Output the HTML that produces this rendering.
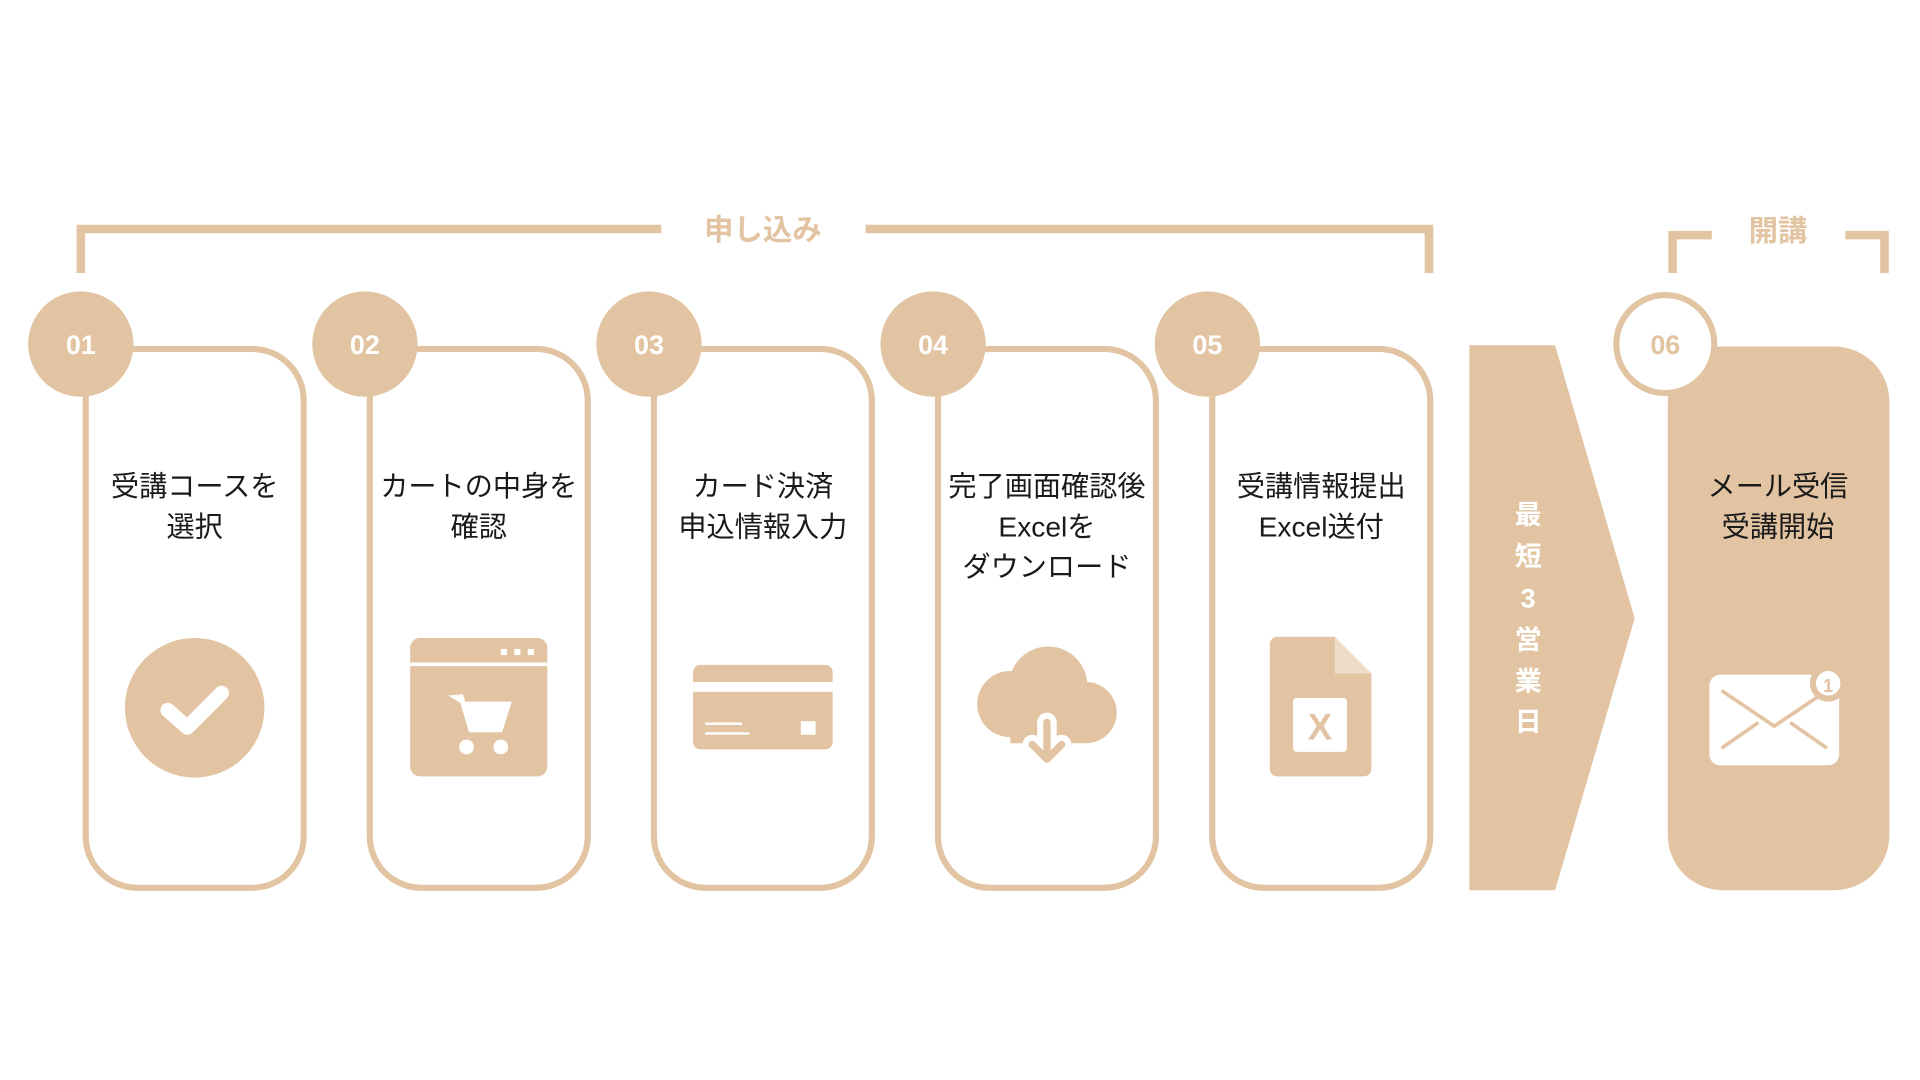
<!DOCTYPE html>
<html><head><meta charset="utf-8"><style>
html,body{margin:0;padding:0;background:#fff;width:1920px;height:1080px;overflow:hidden}
svg{display:block}
.t{font-family:"Liberation Sans","Noto Sans CJK JP",sans-serif;font-size:23px;fill:#1a1a1a;text-anchor:middle}
.b{font-family:"Liberation Sans","Noto Sans CJK JP",sans-serif;font-weight:bold;text-anchor:middle}
</style></head><body>
<svg width="1920" height="1080" viewBox="0 0 1568 882" xmlns="http://www.w3.org/2000/svg">
<g fill="none" stroke="#e2c4a3" stroke-width="7">
<polyline points="66,223 66,187 540,187"/>
<polyline points="707,187 1167,187 1167,223"/>
<polyline points="1366,223 1366,192 1398,192"/>
<polyline points="1507,192 1539,192 1539,223"/>
</g>
<text x="623" y="196" class="b" font-size="24" fill="#e2c4a3">申し込み</text>
<text x="1452" y="197" class="b" font-size="24" fill="#e2c4a3">開講</text>
<g fill="none" stroke="#e2c4a3" stroke-width="5">
<rect x="70" y="285" width="178" height="440" rx="42"/>
<rect x="302" y="285" width="178" height="440" rx="42"/>
<rect x="534" y="285" width="178" height="440" rx="42"/>
<rect x="766" y="285" width="178" height="440" rx="42"/>
<rect x="990" y="285" width="178" height="440" rx="42"/>
</g>
<g fill="#e2c4a3">
<circle cx="66" cy="281" r="43"/><circle cx="298" cy="281" r="43"/><circle cx="530" cy="281" r="43"/><circle cx="762" cy="281" r="43"/><circle cx="986" cy="281" r="43"/>
<polygon points="1200,282 1270,282 1335,505 1270,727 1200,727"/>
<rect x="1362" y="283" width="181" height="444" rx="45"/>
</g>
<circle cx="1360" cy="281" r="40" fill="#fff" stroke="#e2c4a3" stroke-width="5"/>
<g class="b" font-size="22" fill="#fff">
<text x="66" y="289">01</text><text x="298" y="289">02</text><text x="530" y="289">03</text><text x="762" y="289">04</text><text x="986" y="289">05</text>
</g>
<text x="1360" y="289" class="b" font-size="22" fill="#e2c4a3">06</text>
<g class="b" font-size="22" fill="#fff">
<text x="1248" y="428">最</text><text x="1248" y="462">短</text><text x="1248" y="496">3</text><text x="1248" y="530">営</text><text x="1248" y="564">業</text><text x="1248" y="597">日</text>
</g>
<g class="t">
<text x="159" y="405">受講コースを</text><text x="159" y="438">選択</text>
<text x="391" y="405">カートの中身を</text><text x="391" y="438">確認</text>
<text x="623" y="405">カード決済</text><text x="623" y="438">申込情報入力</text>
<text x="855" y="405">完了画面確認後</text><text x="855" y="438">Excelを</text><text x="855" y="471">ダウンロード</text>
<text x="1079" y="405">受講情報提出</text><text x="1079" y="438">Excel送付</text>
<text x="1452" y="405">メール受信</text><text x="1452" y="438">受講開始</text>
</g>
<circle cx="159" cy="578" r="57" fill="#e2c4a3"/>
<polyline points="137,580 153,594 181,566" fill="none" stroke="#fff" stroke-width="12" stroke-linecap="round" stroke-linejoin="round"/>
<rect x="335" y="521" width="112" height="113" rx="8" fill="#e2c4a3"/>
<rect x="335" y="541" width="112" height="3" fill="#fff"/>
<g fill="#fff"><rect x="409" y="530" width="5" height="5"/><rect x="420" y="530" width="5" height="5"/><rect x="431" y="530" width="5" height="5"/>
<circle cx="381" cy="610" r="6"/><circle cx="409" cy="610" r="6"/>
<polygon points="366,568 376,574 383,598 410,598 418,573 380,573 378,567"/></g>
<rect x="566" y="543" width="114" height="69" rx="6" fill="#e2c4a3"/>
<rect x="566" y="557" width="114" height="8" fill="#fff"/>
<rect x="576" y="590" width="30" height="2" fill="#fff"/><rect x="576" y="598" width="36" height="2" fill="#fff"/>
<rect x="654" y="589" width="12" height="11" fill="#fff"/>
<g fill="#e2c4a3"><circle cx="825" cy="575" r="27"/><circle cx="856" cy="560" r="32"/><circle cx="887" cy="582" r="25"/><rect x="825" y="570" width="62" height="37"/></g>
<g fill="none" stroke="#fff" stroke-width="16" stroke-linecap="round" stroke-linejoin="round">
<polyline points="855,590 855,619"/><polyline points="843,608 855,620 867,608"/></g>
<g fill="none" stroke="#e2c4a3" stroke-width="6" stroke-linecap="round" stroke-linejoin="round">
<polyline points="855,590 855,619"/><polyline points="843,608 855,620 867,608"/></g>
<path d="M1043,520 H1090 L1120,550 V628 a6,6 0 0 1 -6,6 H1043 a6,6 0 0 1 -6,-6 V526 a6,6 0 0 1 6,-6z" fill="#e2c4a3"/>
<polygon points="1090,520 1120,550 1090,550" fill="#efdcc8"/>
<rect x="1056" y="570" width="44" height="44" rx="3" fill="#fff"/>
<text x="1078" y="604" class="b" font-size="30" fill="#e2c4a3">X</text>
<rect x="1396" y="551" width="106" height="74" rx="9" fill="#fff"/>
<polyline points="1406,564 1449,593 1492,564" fill="none" stroke="#e2c4a3" stroke-width="3"/>
<line x1="1406" y1="611" x2="1436" y2="590" stroke="#e2c4a3" stroke-width="3"/>
<line x1="1492" y1="611" x2="1462" y2="590" stroke="#e2c4a3" stroke-width="3"/>
<circle cx="1493" cy="558" r="15" fill="#e2c4a3"/>
<circle cx="1493" cy="558" r="10" fill="#fff"/>
<text x="1493" y="565" class="b" font-size="15" fill="#e2c4a3">1</text>
</svg>
</body></html>
